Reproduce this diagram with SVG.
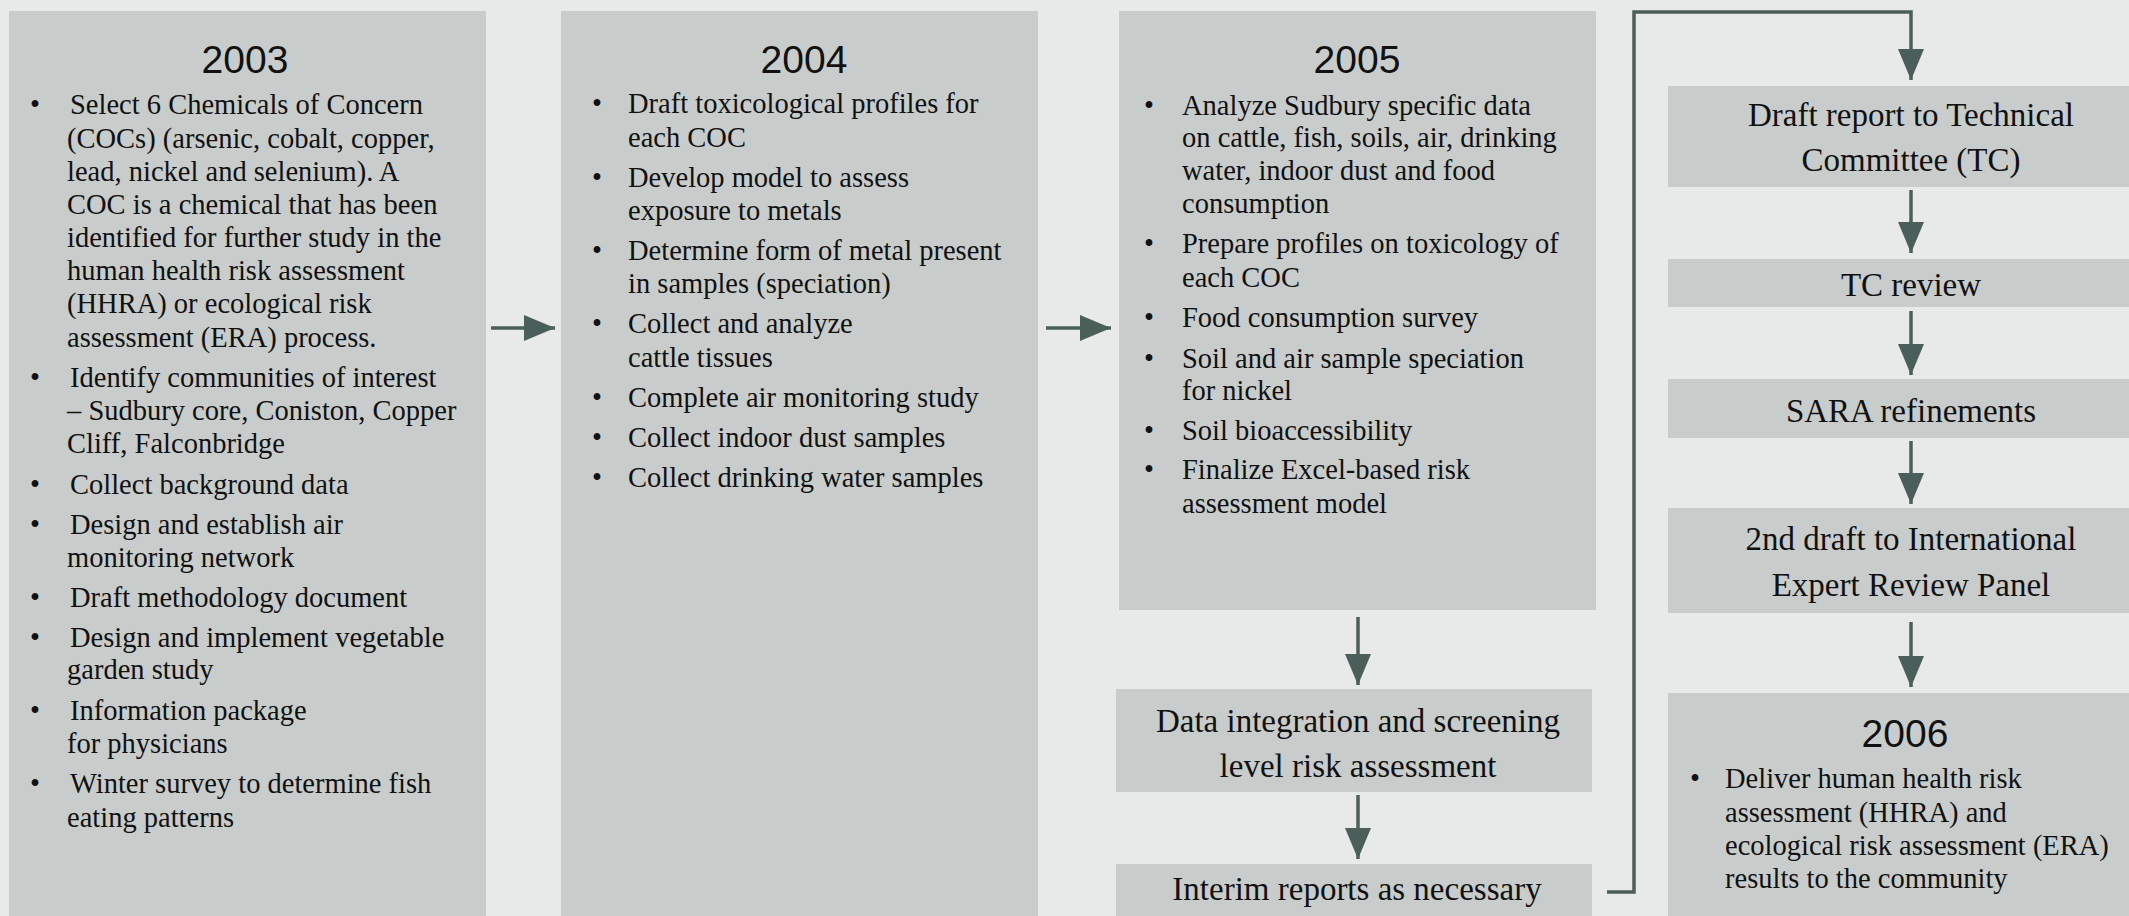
<svg xmlns="http://www.w3.org/2000/svg" width="2129" height="916" viewBox="0 0 2129 916">
<style>
.bg{fill:#e8eae9}
.box{fill:#c8cdcb}
.yr{font-family:"Liberation Sans","DejaVu Sans",sans-serif;font-size:39px;fill:#111;text-anchor:middle}
.t{font-family:"Liberation Serif","DejaVu Serif",serif;font-size:28.5px;fill:#111}
.c{font-family:"Liberation Serif","DejaVu Serif",serif;font-size:33px;fill:#111;text-anchor:middle}
.con{fill:none;stroke:#4b5f5a;stroke-width:3.5}
</style>
<defs>
<marker id="ah" viewBox="0 0 31 26" refX="31" refY="13" markerWidth="31" markerHeight="26" markerUnits="userSpaceOnUse" orient="auto">
<path d="M0,0 L31,13 L0,26 z" fill="#4b5f5a"/>
</marker>
</defs>
<rect class="bg" x="0" y="0" width="2129" height="916"/>

<g id="y2003">
<rect class="box" x="9" y="11" width="477" height="910"/>
<text class="yr" x="245" y="73">2003</text>
<text class="t" x="30" y="114">•</text>
<text class="t" x="70" y="114">Select 6 Chemicals of Concern</text>
<text class="t" x="67" y="148">(COCs) (arsenic, cobalt, copper,</text>
<text class="t" x="67" y="181">lead, nickel and selenium). A</text>
<text class="t" x="67" y="214">COC is a chemical that has been</text>
<text class="t" x="67" y="247">identified for further study in the</text>
<text class="t" x="67" y="280">human health risk assessment</text>
<text class="t" x="67" y="313">(HHRA) or ecological risk</text>
<text class="t" x="67" y="347">assessment (ERA) process.</text>
<text class="t" x="30" y="387">•</text>
<text class="t" x="70" y="387">Identify communities of interest</text>
<text class="t" x="67" y="420">– Sudbury core, Coniston, Copper</text>
<text class="t" x="67" y="453">Cliff, Falconbridge</text>
<text class="t" x="30" y="494">•</text>
<text class="t" x="70" y="494">Collect background data</text>
<text class="t" x="30" y="534">•</text>
<text class="t" x="70" y="534">Design and establish air</text>
<text class="t" x="67" y="567">monitoring network</text>
<text class="t" x="30" y="607">•</text>
<text class="t" x="70" y="607">Draft methodology document</text>
<text class="t" x="30" y="647">•</text>
<text class="t" x="70" y="647">Design and implement vegetable</text>
<text class="t" x="67" y="679">garden study</text>
<text class="t" x="30" y="720">•</text>
<text class="t" x="70" y="720">Information package</text>
<text class="t" x="67" y="753">for physicians</text>
<text class="t" x="30" y="793">•</text>
<text class="t" x="70" y="793">Winter survey to determine fish</text>
<text class="t" x="67" y="827">eating patterns</text>
</g>

<g id="y2004">
<rect class="box" x="561" y="11" width="477" height="910"/>
<text class="yr" x="804" y="73">2004</text>
<text class="t" x="592" y="113">•</text>
<text class="t" x="628" y="113">Draft toxicological profiles for</text>
<text class="t" x="628" y="147">each COC</text>
<text class="t" x="592" y="187">•</text>
<text class="t" x="628" y="187">Develop model to assess</text>
<text class="t" x="628" y="220">exposure to metals</text>
<text class="t" x="592" y="260">•</text>
<text class="t" x="628" y="260">Determine form of metal present</text>
<text class="t" x="628" y="293">in samples (speciation)</text>
<text class="t" x="592" y="333">•</text>
<text class="t" x="628" y="333">Collect and analyze</text>
<text class="t" x="628" y="367">cattle tissues</text>
<text class="t" x="592" y="407">•</text>
<text class="t" x="628" y="407">Complete air monitoring study</text>
<text class="t" x="592" y="447">•</text>
<text class="t" x="628" y="447">Collect indoor dust samples</text>
<text class="t" x="592" y="487">•</text>
<text class="t" x="628" y="487">Collect drinking water samples</text>
</g>

<g id="y2005">
<rect class="box" x="1119" y="11" width="477" height="599"/>
<text class="yr" x="1357" y="73">2005</text>
<text class="t" x="1144" y="115">•</text>
<text class="t" x="1182" y="115">Analyze Sudbury specific data</text>
<text class="t" x="1182" y="147">on cattle, fish, soils, air, drinking</text>
<text class="t" x="1182" y="180">water, indoor dust and food</text>
<text class="t" x="1182" y="213">consumption</text>
<text class="t" x="1144" y="253">•</text>
<text class="t" x="1182" y="253">Prepare profiles on toxicology of</text>
<text class="t" x="1182" y="287">each COC</text>
<text class="t" x="1144" y="327">•</text>
<text class="t" x="1182" y="327">Food consumption survey</text>
<text class="t" x="1144" y="368">•</text>
<text class="t" x="1182" y="368">Soil and air sample speciation</text>
<text class="t" x="1182" y="400">for nickel</text>
<text class="t" x="1144" y="440">•</text>
<text class="t" x="1182" y="440">Soil bioaccessibility</text>
<text class="t" x="1144" y="479">•</text>
<text class="t" x="1182" y="479">Finalize Excel-based risk</text>
<text class="t" x="1182" y="513">assessment model</text>
</g>

<g id="integration">
<rect class="box" x="1116" y="689" width="476" height="103"/>
<text class="c" x="1358" y="732">Data integration and screening</text>
<text class="c" x="1358" y="777">level risk assessment</text>
</g>

<g id="interim">
<rect class="box" x="1116" y="864" width="476" height="60"/>
<text class="c" x="1357" y="900">Interim reports as necessary</text>
</g>

<g id="draft">
<rect class="box" x="1668" y="86" width="486" height="101"/>
<text class="c" x="1911" y="126">Draft report to Technical</text>
<text class="c" x="1911" y="171">Committee (TC)</text>
</g>

<g id="tcreview">
<rect class="box" x="1668" y="259" width="486" height="48"/>
<text class="c" x="1911" y="296">TC review</text>
</g>

<g id="sara">
<rect class="box" x="1668" y="379" width="486" height="59"/>
<text class="c" x="1911" y="422">SARA refinements</text>
</g>

<g id="seconddraft">
<rect class="box" x="1668" y="508" width="486" height="105"/>
<text class="c" x="1911" y="550">2nd draft to International</text>
<text class="c" x="1911" y="596">Expert Review Panel</text>
</g>

<g id="y2006">
<rect class="box" x="1668" y="693" width="486" height="230"/>
<text class="yr" x="1905" y="747">2006</text>
<text class="t" x="1690" y="788">•</text>
<text class="t" x="1725" y="788">Deliver human health risk</text>
<text class="t" x="1725" y="822">assessment (HHRA) and</text>
<text class="t" x="1725" y="855">ecological risk assessment (ERA)</text>
<text class="t" x="1725" y="888">results to the community</text>
</g>

<g id="connectors">
<line class="con" x1="491" y1="328" x2="555" y2="328" marker-end="url(#ah)"/>
<line class="con" x1="1046" y1="328" x2="1111" y2="328" marker-end="url(#ah)"/>
<line class="con" x1="1358" y1="617" x2="1358" y2="685" marker-end="url(#ah)"/>
<line class="con" x1="1358" y1="795" x2="1358" y2="859" marker-end="url(#ah)"/>
<polyline class="con" points="1607,892 1634,892 1634,12 1911,12 1911,80" marker-end="url(#ah)"/>
<line class="con" x1="1911" y1="190" x2="1911" y2="253" marker-end="url(#ah)"/>
<line class="con" x1="1911" y1="311" x2="1911" y2="375" marker-end="url(#ah)"/>
<line class="con" x1="1911" y1="441" x2="1911" y2="504" marker-end="url(#ah)"/>
<line class="con" x1="1911" y1="622" x2="1911" y2="687" marker-end="url(#ah)"/>
</g>
</svg>
